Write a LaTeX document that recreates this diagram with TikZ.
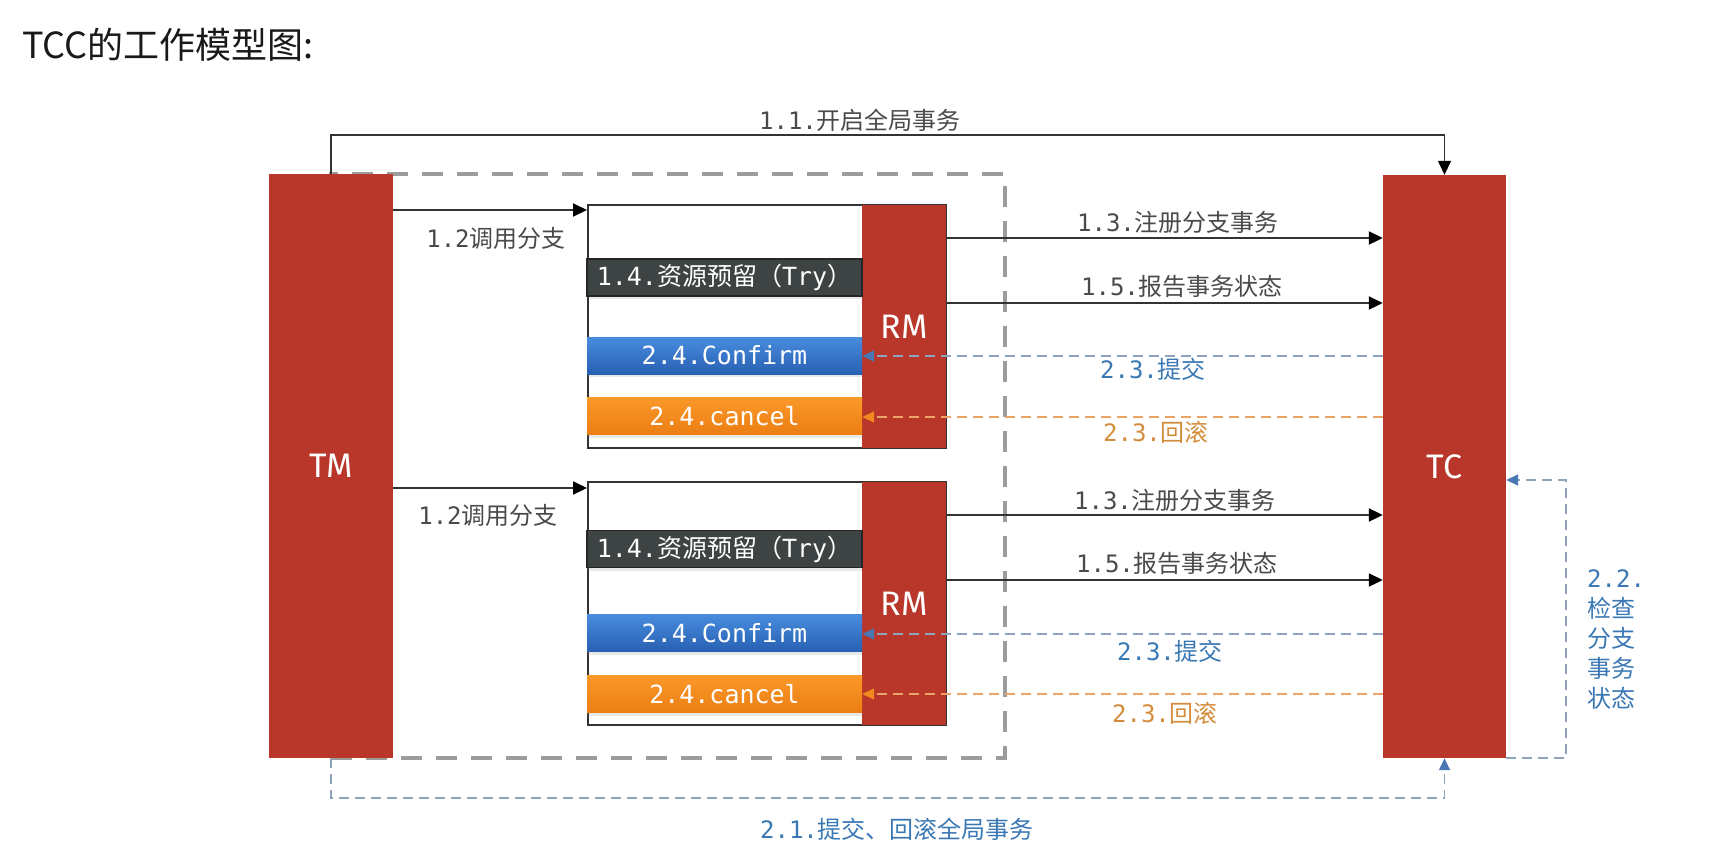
\documentclass[tikz,border=0pt]{standalone}
\usepackage{fontspec}
\setmainfont{Fira Sans}
\newfontfamily\cjk{Noto Sans CJK SC}
\newfontfamily\mono{DejaVu Sans Mono}
\usetikzlibrary{arrows.meta,shadows}
\definecolor{tccred}{HTML}{B8362A}
\definecolor{trygrey}{HTML}{3E4444}
\definecolor{lblgrey}{HTML}{4A4A4A}
\definecolor{lblblue}{HTML}{3A78B4}
\definecolor{lblorange}{HTML}{D48C3C}
\definecolor{dashblue}{HTML}{8FA3BD}
\definecolor{headblue}{HTML}{4A78B5}
\definecolor{dashorange}{HTML}{EBA468}
\definecolor{headorange}{HTML}{F0891E}
\definecolor{boxgrey}{HTML}{9C9C9C}
\definecolor{conftop}{RGB}{72,140,222}
\definecolor{confbot}{RGB}{40,96,178}
\definecolor{canctop}{RGB}{250,152,40}
\definecolor{cancbot}{RGB}{236,126,20}
\newcommand{\mylbl}[2]{{\mono #1}{\cjk #2}}
\begin{document}
\begin{tikzpicture}[x=1pt,y=-1pt,
  redbox/.style={fill=tccred, draw=none, text=white, inner sep=0pt,
    font=\fontsize{34}{40}\selectfont},
  scopebox/.style={draw=boxgrey, line width=4.5pt, dash pattern=on 21pt off 14pt, inner sep=0pt},
  grpbox/.style={draw=black!80, line width=2pt, fill=white, inner sep=0pt},
  barbase/.style={minimum width=275pt, minimum height=37pt, inner sep=0pt, text=white,
    font=\fontsize{25}{28}\selectfont},
  trybar/.style={barbase, fill=trygrey, draw=black!85, line width=1.5pt,
    drop shadow={opacity=0.18, shadow xshift=0pt, shadow yshift=-3pt}},
  confbar/.style={barbase, top color=conftop, bottom color=confbot,
    drop shadow={opacity=0.18, shadow xshift=0pt, shadow yshift=-3pt}},
  cancbar/.style={barbase, top color=canctop, bottom color=cancbot,
    drop shadow={opacity=0.18, shadow xshift=0pt, shadow yshift=-3pt}},
  blkarrow/.style={draw=black!80, line width=2pt, -{Triangle[length=14pt,width=13pt,color=black]}},
  thinarrow/.style={draw=black!80, line width=1.5pt, -{Triangle[length=14pt,width=13pt,color=black]}},
  bluedash/.style={draw=dashblue, line width=1.6pt, dash pattern=on 10pt off 6pt,
    -{Triangle[length=12pt,width=11pt,color=headblue]}},
  orangedash/.style={draw=dashorange, line width=1.6pt, dash pattern=on 10pt off 6pt,
    -{Triangle[length=12pt,width=11pt,color=headorange]}},
  lbl/.style={inner sep=0pt, text=lblgrey, font=\fontsize{24}{28}\selectfont},
  bluelbl/.style={lbl, text=lblblue},
  orangelbl/.style={lbl, text=lblorange},
]
\useasboundingbox (0,0) rectangle (1735,863);

% title
\node[anchor=west, inner sep=0pt, text=black!90, font=\cjk\fontsize{36}{40}\selectfont] (title) at (22,45) {TCC的工作模型图:};

% scope dashed box
\node[scopebox, minimum width=674pt, minimum height=584pt] (scope) at (668,466) {};

% main actors
\node[redbox, minimum width=124pt, minimum height=584pt] (TM) at (331,466) {TM};
\node[redbox, minimum width=123pt, minimum height=583pt] (TC) at (1444.5,466.5) {TC};

% group 1
\node[grpbox, minimum width=358pt, minimum height=243pt] (G1) at (767,326.5) {};
\node[redbox, minimum width=84pt, minimum height=243pt] (RM1) at (904,326.5) {RM};
\node[trybar] (T1) at (724.5,277.5) {\mylbl{1.4.}{资源预留（}{\mono Try}{\cjk ）}};
\node[confbar] (C1) at (724.5,355.5) {\mono 2.4.Confirm};
\node[cancbar] (X1) at (724.5,416) {\mono 2.4.cancel};

% group 2
\node[grpbox, minimum width=358pt, minimum height=243pt] (G2) at (767,603.5) {};
\node[redbox, minimum width=84pt, minimum height=243pt] (RM2) at (904,603.5) {RM};
\node[trybar] (T2) at (724.5,549) {\mylbl{1.4.}{资源预留（}{\mono Try}{\cjk ）}};
\node[confbar] (C2) at (724.5,633) {\mono 2.4.Confirm};
\node[cancbar] (X2) at (724.5,694) {\mono 2.4.cancel};

% helper heights
\coordinate (h12a) at (0,210);
\coordinate (h13a) at (0,238);
\coordinate (h15a) at (0,303);
\coordinate (h23a) at (0,356);
\coordinate (h23b) at (0,417);
\coordinate (h12b) at (0,488);
\coordinate (h13b) at (0,515);
\coordinate (h15b) at (0,580);
\coordinate (h23c) at (0,634);
\coordinate (h23d) at (0,694);
\coordinate (h22) at (0,480);

% 1.1
\draw[thinarrow] (TM.north) -- ++(0,-39) -| (TC.north);
\node[lbl] (l11) at (860,120) {\mylbl{1.1.}{开启全局事务}};

% group 1 connectors
\draw[blkarrow] (TM.east |- h12a) -- (G1.west |- h12a);
\node[lbl] (l12a) at (496,238) {\mylbl{1.2}{调用分支}};
\draw[blkarrow] (RM1.east |- h13a) -- (TC.west |- h13a);
\node[lbl] (l13a) at (1178,222) {\mylbl{1.3.}{注册分支事务}};
\draw[blkarrow] (RM1.east |- h15a) -- (TC.west |- h15a);
\node[lbl] (l15a) at (1182,286) {\mylbl{1.5.}{报告事务状态}};
\draw[bluedash] (TC.west |- h23a) -- (C1.east |- h23a);
\node[bluelbl] (l23a) at (1153,369) {\mylbl{2.3.}{提交}};
\draw[orangedash] (TC.west |- h23b) -- (X1.east |- h23b);
\node[orangelbl] (l23b) at (1156,432) {\mylbl{2.3.}{回滚}};

% group 2 connectors
\draw[blkarrow] (TM.east |- h12b) -- (G2.west |- h12b);
\node[lbl] (l12b) at (488,515) {\mylbl{1.2}{调用分支}};
\draw[blkarrow] (RM2.east |- h13b) -- (TC.west |- h13b);
\node[lbl] (l13b) at (1175,500) {\mylbl{1.3.}{注册分支事务}};
\draw[blkarrow] (RM2.east |- h15b) -- (TC.west |- h15b);
\node[lbl] (l15b) at (1177,563) {\mylbl{1.5.}{报告事务状态}};
\draw[bluedash] (TC.west |- h23c) -- (C2.east |- h23c);
\node[bluelbl] (l23c) at (1170,651) {\mylbl{2.3.}{提交}};
\draw[orangedash] (TC.west |- h23d) -- (X2.east |- h23d);
\node[orangelbl] (l23d) at (1165,713) {\mylbl{2.3.}{回滚}};

% 2.1
\draw[bluedash] (TM.south) -- ++(0,40) -| (TC.south);
\node[bluelbl] (l21) at (897,829) {\mylbl{2.1.}{提交、回滚全局事务}};

% 2.2
\draw[bluedash] (TC.south east) -- ++(60,0) |- (TC.east |- h22);
\node[bluelbl, anchor=west, align=left, font=\fontsize{24}{30}\selectfont] (l22) at (1587,640)
  {{\mono 2.2.}\\{\cjk 检查}\\{\cjk 分支}\\{\cjk 事务}\\{\cjk 状态}};
\end{tikzpicture}
\end{document}
